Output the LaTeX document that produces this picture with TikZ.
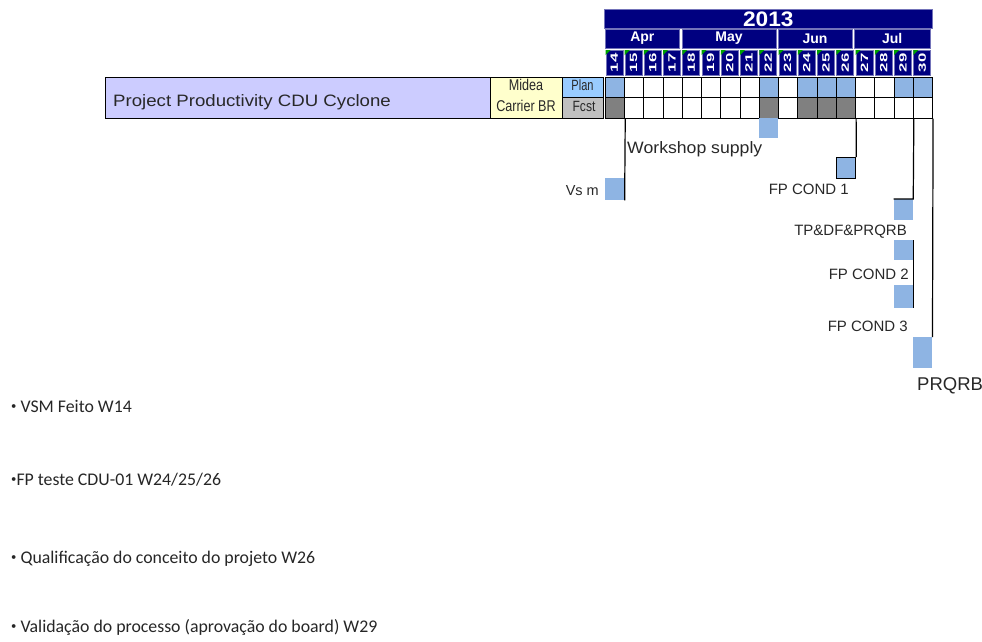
\documentclass[tikz,border=0pt]{standalone}
\usepackage{fontspec}
\usepackage{graphicx}
\setmainfont{Liberation Sans}
\newfontfamily\bulfont{Carlito}
\definecolor{navy}{RGB}{0,0,128}
\definecolor{planblue}{RGB}{142,180,227}
\definecolor{fcstgray}{RGB}{128,128,128}
\definecolor{projlav}{RGB}{204,204,255}
\definecolor{mideayel}{RGB}{255,255,204}
\definecolor{planhdr}{RGB}{153,204,255}
\definecolor{fcsthdr}{RGB}{192,192,192}
\definecolor{wkgreen}{RGB}{0,160,0}
\definecolor{lbltext}{RGB}{40,40,40}
\newcommand{\fsz}[1]{\fontsize{#1}{#1}\selectfont}
\newcommand{\sx}[2]{\scalebox{#1}[1]{#2}}
\newcommand{\bdot}{\raisebox{0.12em}{\scalebox{0.6}{•}}}
\begin{document}
\begin{tikzpicture}[x=1pt,y=-1pt,
  hdr/.style={fill=navy, draw=navy!55!white, line width=0.6pt, inner sep=0pt, text=white},
  cell/.style={draw=black, line width=1pt, minimum width=19.24pt, minimum height=20.5pt, inner sep=0pt, anchor=north west},
  leftbox/.style={draw=black, line width=1pt, inner sep=0pt, anchor=north west},
  ms/.style={fill=planblue, inner sep=0pt, minimum width=19.24pt, anchor=north west},
  conn/.style={draw=black, line width=1.2pt},
  lbl/.style={inner sep=0pt, text=lbltext, font=\fsz{15}},
  bul/.style={inner sep=0pt, anchor=base west, text=black!85, font=\bulfont\fsz{17.8}}
]
\useasboundingbox (0,0) rectangle (982,641);

% year and months
\node[hdr, minimum width=328pt, minimum height=19pt, anchor=north west, font=\bfseries\fsz{21}] (year) at (604,9) {\sx{1.08}{2013}};
\node[hdr, minimum width=74pt, minimum height=19pt, font=\bfseries\fsz{14}] (apr) at (642.3,38.5) {Apr};
\node[hdr, minimum width=94pt, minimum height=19pt, font=\bfseries\fsz{14}] (may) at (729,38.5) {May};
\node[hdr, minimum width=74pt, minimum height=19pt, font=\bfseries\fsz{14}] (jun) at (815,38.5) {Jun};
\node[hdr, minimum width=76pt, minimum height=19pt, font=\bfseries\fsz{14}] (jul) at (892.2,38.5) {Jul};

% week headers
\foreach \w in {14,...,30}{
  \pgfmathsetmacro\xl{605+19.24*(\w-14)}
  \node[hdr, minimum width=17pt, minimum height=25pt, anchor=north west] (h\w) at (\xl+0.5,50) {};
  \fill[wkgreen] (h\w.north west) -- ++(5,0) -- ++(-5,5) -- cycle;
  \node[rotate=90, inner sep=0pt, text=white, font=\bfseries\fsz{10.5}] (t\w) at (h\w.center) {\sx{1.6}{\w}};
}

% grid
\foreach \w/\pc/\fc in {14/planblue/fcstgray,15/white/white,16/white/white,17/white/white,
  18/white/white,19/white/white,20/white/white,21/white/white,22/planblue/fcstgray,
  23/white/white,24/planblue/fcstgray,25/planblue/fcstgray,26/planblue/fcstgray,
  27/white/white,28/white/white,29/planblue/white,30/planblue/white}{
  \pgfmathsetmacro\xl{605+19.24*(\w-14)}
  \node[cell, fill=\pc] (p\w) at (\xl,76.5) {};
  \node[cell, fill=\fc] (f\w) at (\xl,97) {};
}

% left boxes
\node[leftbox, fill=projlav, minimum width=385pt, minimum height=40.5pt] (proj) at (105,77) {};
\node[inner sep=0pt, anchor=base west, text=lbltext, font=\fsz{16.5}] (projt) at (113,106.7) {\sx{1.13}{Project Productivity CDU Cyclone}};
\node[leftbox, fill=mideayel, minimum width=72pt, minimum height=40.5pt] (midea) at (490,77) {};
\node[inner sep=0pt, anchor=base, text=lbltext, font=\fsz{12}] (mideat1) at (526,90.5) {\scalebox{1.05}[1.3]{Midea}};
\node[inner sep=0pt, anchor=base, text=lbltext, font=\fsz{12}] (mideat2) at (526,111.5) {\scalebox{1.05}[1.3]{Carrier BR}};
\node[leftbox, fill=planhdr, minimum width=41pt, minimum height=20pt] (plan) at (562,77) {};
\node[inner sep=0pt, anchor=base, text=lbltext, font=\fsz{11}] (plant) at (582.5,90.5) {\scalebox{1}[1.35]{Plan}};
\node[leftbox, fill=fcsthdr, minimum width=41pt, minimum height=20.5pt] (fcst) at (562,97) {};
\node[inner sep=0pt, anchor=base, text=lbltext, font=\fsz{11}] (fcstt) at (584,111.5) {\scalebox{1.1}[1.35]{Fcst}};

% milestones
\node[ms, minimum height=22pt] (vsm) at (605,178) {};
\node[lbl, anchor=base east, font=\fsz{14.5}] (vsmt) at (599,195) {Vs m};
\draw[conn] (f14.south east) -- (vsm.south east);

\node[ms, minimum height=20pt] (ws) at (758.92,118) {};
\node[lbl, anchor=base west, font=\fsz{16.5}] (wst) at (627,153.3) {\sx{1.07}{Workshop supply}};

\node[ms, draw=black, line width=1.2pt, minimum height=21pt] (fp1) at (835.88,157) {};
\node[lbl, anchor=base east] (fp1t) at (849,194) {FP COND 1};
\draw[conn] (f26.south east) -- (fp1.north east);

\node[ms, minimum height=21pt] (tp) at (893.6,199) {};
\node[lbl, anchor=base east] (tpt) at (907,235) {TP\&DF\&PRQRB};
\draw[conn] (f29.south east) -- (tp.north east) -- (tp.north west);

\node[ms, minimum height=20pt] (fp2) at (893.6,240) {};
\node[lbl, anchor=base east] (fp2t) at (909,279) {FP COND 2};
\node[ms, minimum height=23pt] (fp3) at (893.6,285) {};
\node[lbl, anchor=base east] (fp3t) at (908,331.7) {FP COND 3};
\draw[conn] (fp2.north east) -- (fp3.south east);

\node[ms, minimum height=31pt] (prq) at (912.84,337) {};
\node[lbl, anchor=base west, font=\fsz{18.5}] (prqt) at (917,390.7) {PRQRB};
\draw[conn] (f30.south east) -- (prq.north east);

% bullets
\node[bul] (b1) at (11,412) {\bdot\ VSM Feito W14};
\node[bul] (b2) at (11,485) {\bdot FP teste CDU-01 W24/25/26};
\node[bul] (b3) at (11,563) {\bdot\ Qualificação do conceito do projeto W26};
\node[bul] (b4) at (11,632) {\bdot\ Validação do processo (aprovação do board) W29};
\end{tikzpicture}
\end{document}
